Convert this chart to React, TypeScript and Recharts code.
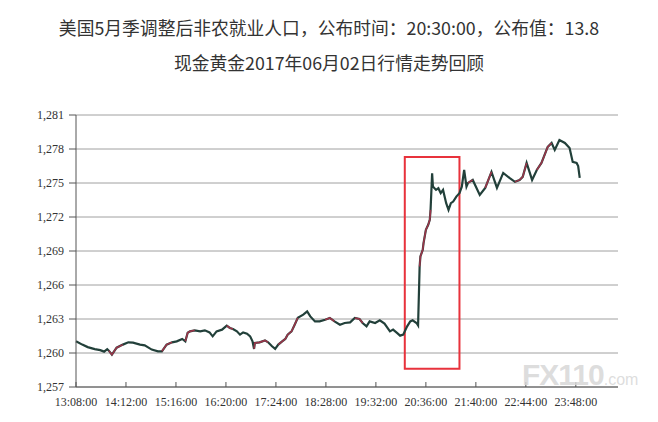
import React from "react";
import {
  LineChart,
  Line,
  XAxis,
  YAxis,
  CartesianGrid,
  ReferenceArea,
} from "recharts";

const titleLine1 = "美国5月季调整后非农就业人口，公布时间：20:30:00，公布值：13.8";
const titleLine2 = "现金黄金2017年06月02日行情走势回顾";

const xTickLabels = [
  "13:08:00", "14:12:00", "15:16:00", "16:20:00", "17:24:00", "18:28:00",
  "19:32:00", "20:36:00", "21:40:00", "22:44:00", "23:48:00",
];
const yTicks = [1257, 1260, 1263, 1266, 1269, 1272, 1275, 1278, 1281];

// minutes after 13:08
const minutes = [
  0, 8, 15, 24, 31, 36, 40, 42, 46, 52, 60, 67, 73, 82, 88, 97, 105, 110, 116, 123,
  129, 136, 140, 143, 146, 152, 159, 165, 171, 175, 180, 187, 193, 197, 201, 206,
  210, 214, 219, 223, 226, 228, 229, 235, 242, 246, 251, 255, 259, 264, 268, 271,
  276, 280, 284, 291, 296, 300, 306, 312, 319, 325, 331, 338, 344, 351, 357, 363,
  367, 372, 376, 383, 389, 395, 402, 406, 411, 415, 419, 424, 428, 431, 436, 438,
  440, 441, 444, 445, 448, 451, 453, 454, 456, 457, 461, 464, 467, 470, 474, 477,
  480, 483, 487, 491, 494, 497, 500, 502, 508, 517, 524, 532, 539, 547, 555, 562,
  568, 572, 577, 584, 590, 596, 604, 609, 613, 619, 626, 632, 636, 641, 643, 645,
];
const prices = [
  1261.03, 1260.74, 1260.52, 1260.34, 1260.25, 1260.12, 1260.34, 1260.21, 1259.85, 1260.47,
  1260.74, 1260.94, 1260.91, 1260.74, 1260.67, 1260.3, 1260.15, 1260.15, 1260.74, 1260.94,
  1261.03, 1261.24, 1261.03, 1261.79, 1261.91, 1262.0, 1261.91, 1262.0, 1261.82, 1261.47,
  1261.91, 1262.06, 1262.41, 1262.21, 1262.12, 1261.91, 1261.62, 1261.82, 1261.7, 1261.47,
  1261.03, 1260.36, 1260.89, 1260.94, 1261.11, 1260.94, 1260.59, 1260.36, 1260.74, 1261.03,
  1261.24, 1261.62, 1261.91, 1262.5, 1263.11, 1263.38, 1263.67, 1263.23, 1262.79, 1262.79,
  1262.94, 1263.09, 1262.79, 1262.5, 1262.65, 1262.7, 1263.09, 1263.0, 1262.65, 1262.35,
  1262.79, 1262.65, 1262.88, 1262.59, 1261.91, 1262.06, 1261.77, 1261.53, 1261.62, 1262.35,
  1262.79, 1262.88, 1262.65, 1262.44, 1267.63, 1268.52, 1269.11, 1269.7, 1270.87, 1271.31,
  1271.75, 1272.63, 1275.86, 1274.68, 1274.39, 1274.54, 1274.1, 1274.39, 1273.22, 1272.63,
  1273.22, 1273.36, 1273.8, 1274.1, 1274.68, 1276.15, 1274.68, 1275.01, 1275.27, 1273.95,
  1274.57, 1275.98, 1274.57, 1275.89, 1275.45, 1275.1, 1275.27, 1275.54, 1276.77, 1275.27,
  1276.15, 1276.77, 1278.18, 1278.53, 1277.92, 1278.8, 1278.53, 1278.09, 1276.86, 1276.77,
  1276.5, 1275.45,
];

// stretches drawn in red in the picture (minutes after 13:08)
const redStretches = [
  [42, 60], [110, 123], [140, 152], [193, 201], [228, 246], [259, 284],
  [319, 331], [357, 367], [440, 454], [502, 508], [524, 532], [562, 577], [590, 609],
];

// highlighted window (minutes after 13:08, price)
const boxX = [421, 491];
const boxY = [1258.6, 1277.3];

const toMinutes = (label: string) => {
  const [h, m] = label.split(":").map(Number);
  return (h * 60 + m) - (13 * 60 + 8);
};
const xTicks = xTickLabels.map(toMinutes);
const data = minutes.map((m, i) => ({
  m,
  price: prices[i],
  red: redStretches.some(([a, b]) => m >= a && m <= b) ? prices[i] : null,
}));

const fmtY = (v: number) => v.toLocaleString("en-US");
const fmtX = (v: number) => {
  const i = xTicks.indexOf(v);
  return i >= 0 ? xTickLabels[i] : "";
};

const axisFont = {
  fontFamily: "'Liberation Serif', 'Times New Roman', serif",
  fontSize: 12,
  fill: "#333",
};

const titleStyle: React.CSSProperties = {
  position: "absolute",
  left: 0,
  width: 658,
  textAlign: "center",
  fontFamily: "'Noto Sans CJK SC', sans-serif",
  fontSize: 17.8,
  color: "#333",
  lineHeight: "24px",
  whiteSpace: "nowrap",
};

export default function App() {
  return (
    <div
      style={{
        position: "absolute",
        left: 0,
        top: 0,
        width: 658,
        height: 422,
        background: "#fff",
        overflow: "hidden",
      }}
    >
      <div style={{ ...titleStyle, top: 15 }}>{titleLine1}</div>
      <div style={{ ...titleStyle, top: 50 }}>{titleLine2}</div>
      <div style={{ position: "absolute", left: 0, top: 0 }}>
        <LineChart
          width={658}
          height={422}
          data={data}
          margin={{ top: 115, right: 40, bottom: 5, left: 26 }}
        >
          <CartesianGrid vertical={false} stroke="#a0a0a0" strokeWidth={1} />
          <XAxis
            dataKey="m"
            type="number"
            domain={[0, 694]}
            ticks={xTicks}
            tickFormatter={fmtX}
            height={30}
            stroke="#555"
            tickSize={-5}
            tickMargin={15}
            tick={axisFont}
            interval={0}
          />
          <YAxis
            type="number"
            domain={[1257, 1281]}
            ticks={yTicks}
            tickFormatter={fmtY}
            width={50}
            stroke="#555"
            tickSize={7}
            tickMargin={5}
            tick={axisFont}
            interval={0}
          />
          <ReferenceArea
            x1={boxX[0]}
            x2={boxX[1]}
            y1={boxY[0]}
            y2={boxY[1]}
            fill="none"
            fillOpacity={0}
            stroke="#e8323c"
            strokeWidth={2}
          />
          <Line
            type="linear"
            dataKey="price"
            stroke="#22403a"
            strokeWidth={2.2}
            dot={false}
            isAnimationActive={false}
          />
          <Line
            type="linear"
            dataKey="red"
            stroke="#b8324e"
            strokeWidth={1.6}
            strokeOpacity={0.8}
            dot={false}
            connectNulls={false}
            isAnimationActive={false}
          />
        </LineChart>
      </div>
      <div
        style={{
          position: "absolute",
          left: 522,
          top: 362,
          height: 26,
          lineHeight: "26px",
          fontFamily: "'Liberation Sans', Arial, sans-serif",
          color: "rgba(215,215,215,0.85)",
          whiteSpace: "nowrap",
        }}
      >
        <span style={{ fontSize: 30, fontWeight: 700, letterSpacing: -1 }}>FX110</span>
        <span style={{ fontSize: 16 }}>.com</span>
      </div>
    </div>
  );
}
